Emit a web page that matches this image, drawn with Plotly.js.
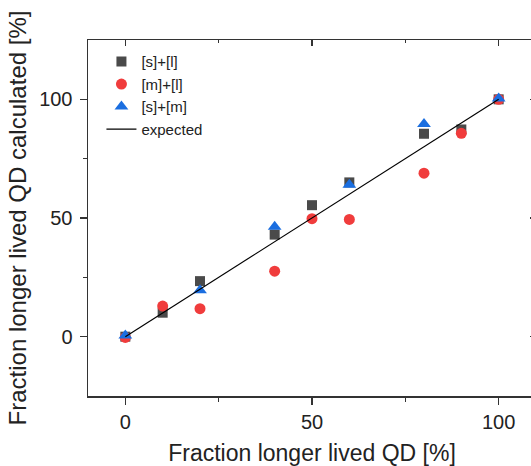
<!DOCTYPE html>
<html>
<head>
<meta charset="utf-8">
<script src="https://cdn.plot.ly/plotly-3.0.1.min.js"></script>
<style>
html,body{margin:0;padding:0;overflow:hidden;background:#fff;}
#chart{width:545px;height:466px;}
</style>
</head>
<body>
<div id="chart"></div>
<script>
// Data
const xSL = [0, 10, 20, 40, 50, 60, 80, 90, 100];
const ySL = [0, 10.1, 23.4, 43, 55.4, 65, 85.5, 87.3, 100];
const xML = [0, 10, 20, 40, 50, 60, 80, 90, 100];
const yML = [-0.3, 12.9, 11.8, 27.6, 49.7, 49.4, 68.9, 85.7, 100];
const xSM = [0, 20, 40, 60, 80, 100];
const ySM = [0.5, 19.6, 46.3, 64, 89.6, 100.4];
const xExp = [0, 100];
const yExp = [0, 100];
const xTicks = [0, 50, 100];
const yTicks = [0, 50, 100];

const font = 'Arial, "Liberation Sans", sans-serif';
const traces = [
  {x: xSL, y: ySL, name: '[s]+[l]', mode: 'markers', type: 'scatter',
   marker: {symbol: 'square', size: 10, color: '#4a4a4a'}},
  {x: xML, y: yML, name: '[m]+[l]', mode: 'markers', type: 'scatter',
   marker: {symbol: 'circle', size: 11, color: '#f03c3c'}},
  {x: xSM, y: ySM, name: '[s]+[m]', mode: 'markers', type: 'scatter',
   marker: {symbol: 'triangle-up', size: 12, color: '#1a6ee0'}},
  {x: xExp, y: yExp, name: 'expected', mode: 'lines', type: 'scatter',
   line: {color: '#000', width: 1.2}},
  // invisible helper so the mirrored (top/right) axes get drawn
  {x: xExp, y: yExp, xaxis: 'x2', yaxis: 'y2', mode: 'none', type: 'scatter',
   showlegend: false, hoverinfo: 'skip'}
];

const axCommon = {
  showgrid: false, zeroline: false, showline: true, linecolor: '#333', linewidth: 1.5,
  tickcolor: '#333', tickwidth: 1.2, tickfont: {family: font, size: 20, color: '#222'}
};

const layout = {
  width: 545, height: 466,
  margin: {l: 88, r: 9, t: 40, b: 70},
  paper_bgcolor: '#fff', plot_bgcolor: '#fff',
  showlegend: true,
  legend: {x: 0.03, y: 0.985, xanchor: 'left', yanchor: 'top', bgcolor: 'rgba(0,0,0,0)',
           font: {family: font, size: 15, color: '#222'}, tracegroupgap: 0},
  xaxis: Object.assign({}, axCommon, {
    range: [-10, 110], tickmode: 'array', tickvals: xTicks, ticktext: xTicks.map(String),
    ticks: 'outside', ticklen: 7,
    minor: {tickvals: [25, 75], ticks: 'outside', ticklen: 4, tickcolor: '#333', tickwidth: 1.2},
    title: {text: 'Fraction longer lived QD [%]', font: {family: font, size: 23, color: '#222'}, standoff: 14}
  }),
  yaxis: Object.assign({}, axCommon, {
    range: [-25, 125], tickmode: 'array', tickvals: yTicks, ticktext: yTicks.map(String),
    ticks: 'outside', ticklen: 7, ticklabelstandoff: 3,
    minor: {tickvals: [25, 75], ticks: 'outside', ticklen: 4, tickcolor: '#333', tickwidth: 1.2},
    title: {text: 'Fraction longer lived QD calculated [%]', font: {family: font, size: 24, color: '#222'}, standoff: 5}
  }),
  xaxis2: Object.assign({}, axCommon, {
    overlaying: 'x', side: 'top', anchor: 'y2', range: [-10, 110],
    tickmode: 'array', tickvals: xTicks, showticklabels: false, ticks: 'inside', ticklen: 6,
    minor: {tickvals: [25, 75], ticks: 'inside', ticklen: 3, tickcolor: '#333', tickwidth: 1.2}
  }),
  yaxis2: Object.assign({}, axCommon, {
    overlaying: 'y', side: 'right', anchor: 'x2', range: [-25, 125],
    tickmode: 'array', tickvals: yTicks, showticklabels: false, ticks: 'inside', ticklen: 6,
    minor: {tickvals: [25, 75], ticks: 'inside', ticklen: 3, tickcolor: '#333', tickwidth: 1.2}
  })
};

Plotly.newPlot('chart', traces, layout, {displayModeBar: false, staticPlot: true});
</script>
</body>
</html>
